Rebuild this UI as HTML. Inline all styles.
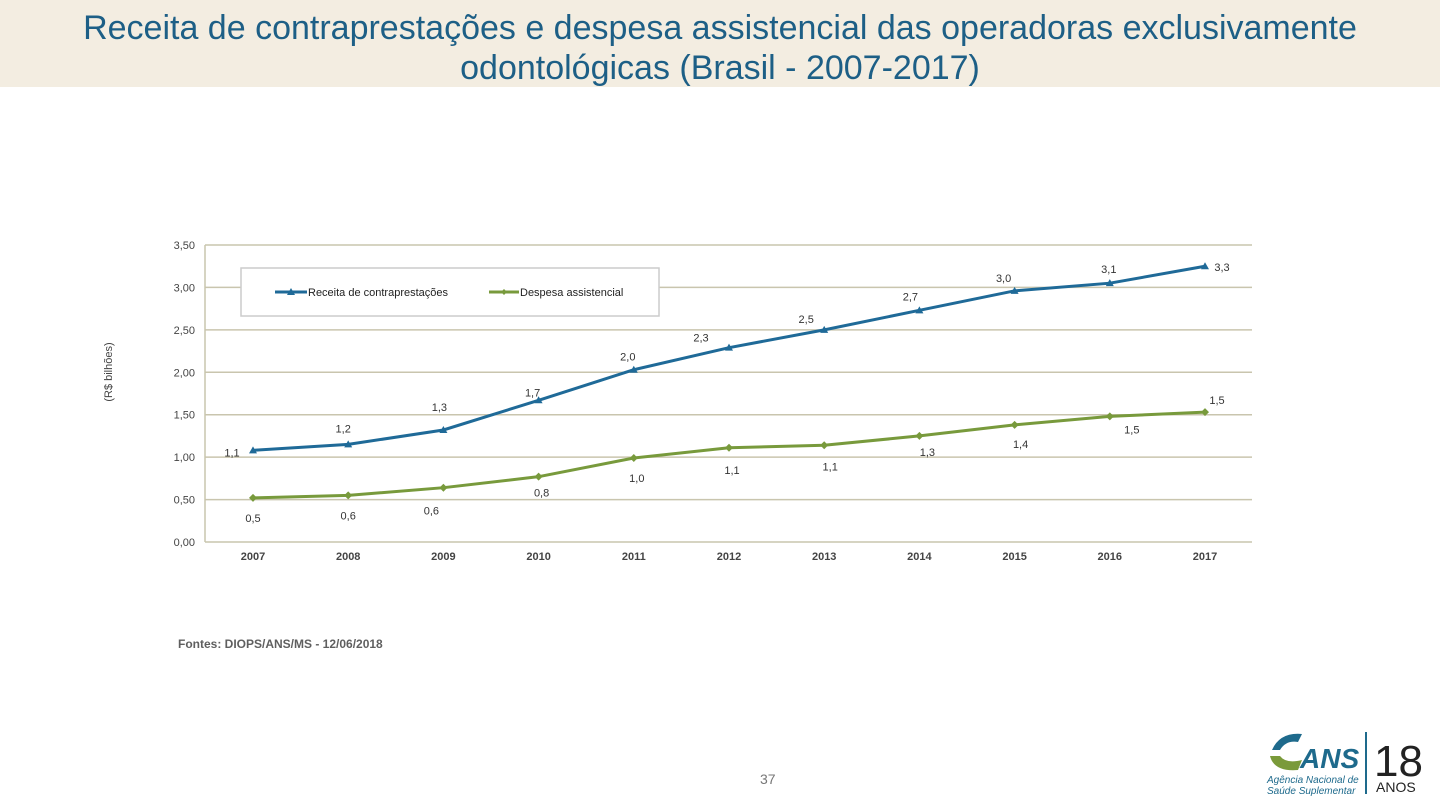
<!DOCTYPE html>
<html><head><meta charset="utf-8">
<style>
body{margin:0;width:1440px;height:810px;background:#fff;position:relative;font-family:"Liberation Sans",sans-serif;overflow:hidden}
#hdr{position:absolute;left:0;top:0;width:1440px;height:87px;background:#f3ede1}
#title{position:absolute;left:0;top:8px;width:1440px;text-align:center;font-size:34px;line-height:40px;color:#1d5f86;white-space:nowrap}
#src{position:absolute;left:178px;top:637px;font-size:12px;color:#444;font-weight:bold;opacity:.85}
#pg{position:absolute;left:760px;top:771px;font-size:14px;color:#777}
svg text{font-family:"Liberation Sans",sans-serif}
</style></head><body>
<div id="hdr"></div>
<div id="title">Receita de contraprestações e despesa assistencial das operadoras exclusivamente<br>odontológicas (Brasil - 2007-2017)</div>
<svg id="chart" width="1440" height="810" style="position:absolute;left:0;top:0"></svg>
<div id="src">Fontes: DIOPS/ANS/MS - 12/06/2018</div>
<div id="pg">37</div>
<svg width="190" height="90" style="position:absolute;left:1250px;top:720px">
<path d="M22 30 Q30 12 52 14 L48 22 Q36 20 30 30 Z" fill="#1e6a8c"/>
<path d="M20 36 Q24 52 48 50 L52 40 Q36 44 30 36 Z" fill="#7a9a3a"/>
<text x="50" y="48" font-size="28" font-weight="bold" font-style="italic" fill="#1e6a8c">ANS</text>
<text x="17" y="63" font-size="10" font-style="italic" fill="#1e6a8c">Agência Nacional de</text>
<text x="17" y="74" font-size="10" font-style="italic" fill="#1e6a8c">Saúde Suplementar</text>
<rect x="115" y="12" width="2" height="62" fill="#1e6a8c"/>
<text x="124" y="56" font-size="44" fill="#222">18</text>
<text x="126" y="72" font-size="14" fill="#222">ANOS</text>
</svg>
<script>
const years=["2007","2008","2009","2010","2011","2012","2013","2014","2015","2016","2017"];
const receita=[1.08,1.15,1.32,1.67,2.03,2.29,2.50,2.73,2.96,3.05,3.25];
const despesa=[0.52,0.55,0.64,0.77,0.99,1.11,1.14,1.25,1.38,1.48,1.53];
const receitaLabels=["1,1","1,2","1,3","1,7","2,0","2,3","2,5","2,7","3,0","3,1","3,3"];
const despesaLabels=["0,5","0,6","0,6","0,8","1,0","1,1","1,1","1,3","1,4","1,5","1,5"];
const yTicks=[0,0.5,1,1.5,2,2.5,3,3.5];
const yTickLabels=["0,00","0,50","1,00","1,50","2,00","2,50","3,00","3,50"];
const rOff=[[-21,2],[-5,-16],[-4,-23],[-6,-8],[-6,-13],[-28,-10],[-18,-11],[-9,-14],[-11,-13],[-1,-14],[17,1]];
const dOff=[[0,20],[0,20],[-12,23],[3,16],[3,20],[3,22],[6,21],[8,16],[6,19],[22,13],[12,-12]];
const NS="http://www.w3.org/2000/svg";
const svg=document.getElementById('chart');
const L=205,R=1252,T=245,B=542;
const x=i=>253+i*(1205-253)/(years.length-1);
const y=v=>B-(v/3.5)*(B-T);
function mk(tag,attrs,parent){const e=document.createElementNS(NS,tag);for(const k in attrs)e.setAttribute(k,attrs[k]);(parent||svg).appendChild(e);return e;}
yTicks.forEach((v,i)=>{
 const g=mk('line',{x1:L,x2:R,y1:y(v),y2:y(v),stroke:'#c9c5ae','stroke-width':1.5});
 
 
 const t=mk('text',{x:L-10,y:y(v)+4,'text-anchor':'end','font-size':11,fill:'#444'});t.textContent=yTickLabels[i];
 
 
});
const ax=mk('line',{x1:L,x2:L,y1:T,y2:B,stroke:'#c9c5ae','stroke-width':1.5});


years.forEach((yr,i)=>{const t=mk('text',{x:x(i),y:B+18,'text-anchor':'middle','font-size':11,'font-weight':'bold',fill:'#444'});t.textContent=yr;
 
 });
const yt=mk('text',{transform:'translate(112,372) rotate(-90)','text-anchor':'middle','font-size':11,fill:'#444'});yt.textContent='(R$ bilhões)';


function series(vals,labs,off,color,name,tri){
 const p=mk('polyline',{points:vals.map((v,i)=>x(i)+','+y(v)).join(' '),fill:'none',stroke:color,'stroke-width':3});
 
 
 vals.forEach((v,i)=>{
  const cx=x(i),cy=y(v);
  const m=tri?mk('polygon',{points:`${cx},${cy-4} ${cx-4},${cy+3} ${cx+4},${cy+3}`,fill:color}):mk('polygon',{points:`${cx},${cy-4} ${cx+4},${cy} ${cx},${cy+4} ${cx-4},${cy}`,fill:color});
  
  
  const t=mk('text',{x:cx+off[i][0],y:cy+off[i][1]+4,'text-anchor':'middle','font-size':11,fill:'#333'});t.textContent=labs[i];
  
  
 });
}
series(receita,receitaLabels,rOff,'#1f6a98','receita',true);
series(despesa,despesaLabels,dOff,'#789a3c','despesa',false);
const lg=mk('rect',{x:241,y:268,width:418,height:48,fill:'#fff',stroke:'#ccc','stroke-width':1.5});


mk('line',{x1:275,x2:307,y1:292,y2:292,stroke:'#1f6a98','stroke-width':3});
mk('polygon',{points:'291,288 287,295 295,295',fill:'#1f6a98'});
const l1=mk('text',{x:308,y:296,'font-size':11,fill:'#222'});l1.textContent='Receita de contraprestações';


mk('line',{x1:489,x2:519,y1:292,y2:292,stroke:'#789a3c','stroke-width':3});
mk('polygon',{points:'504,289 507,292 504,295 501,292',fill:'#789a3c'});
const l2=mk('text',{x:520,y:296,'font-size':11,fill:'#222'});l2.textContent='Despesa assistencial';


</script>
</body></html>
